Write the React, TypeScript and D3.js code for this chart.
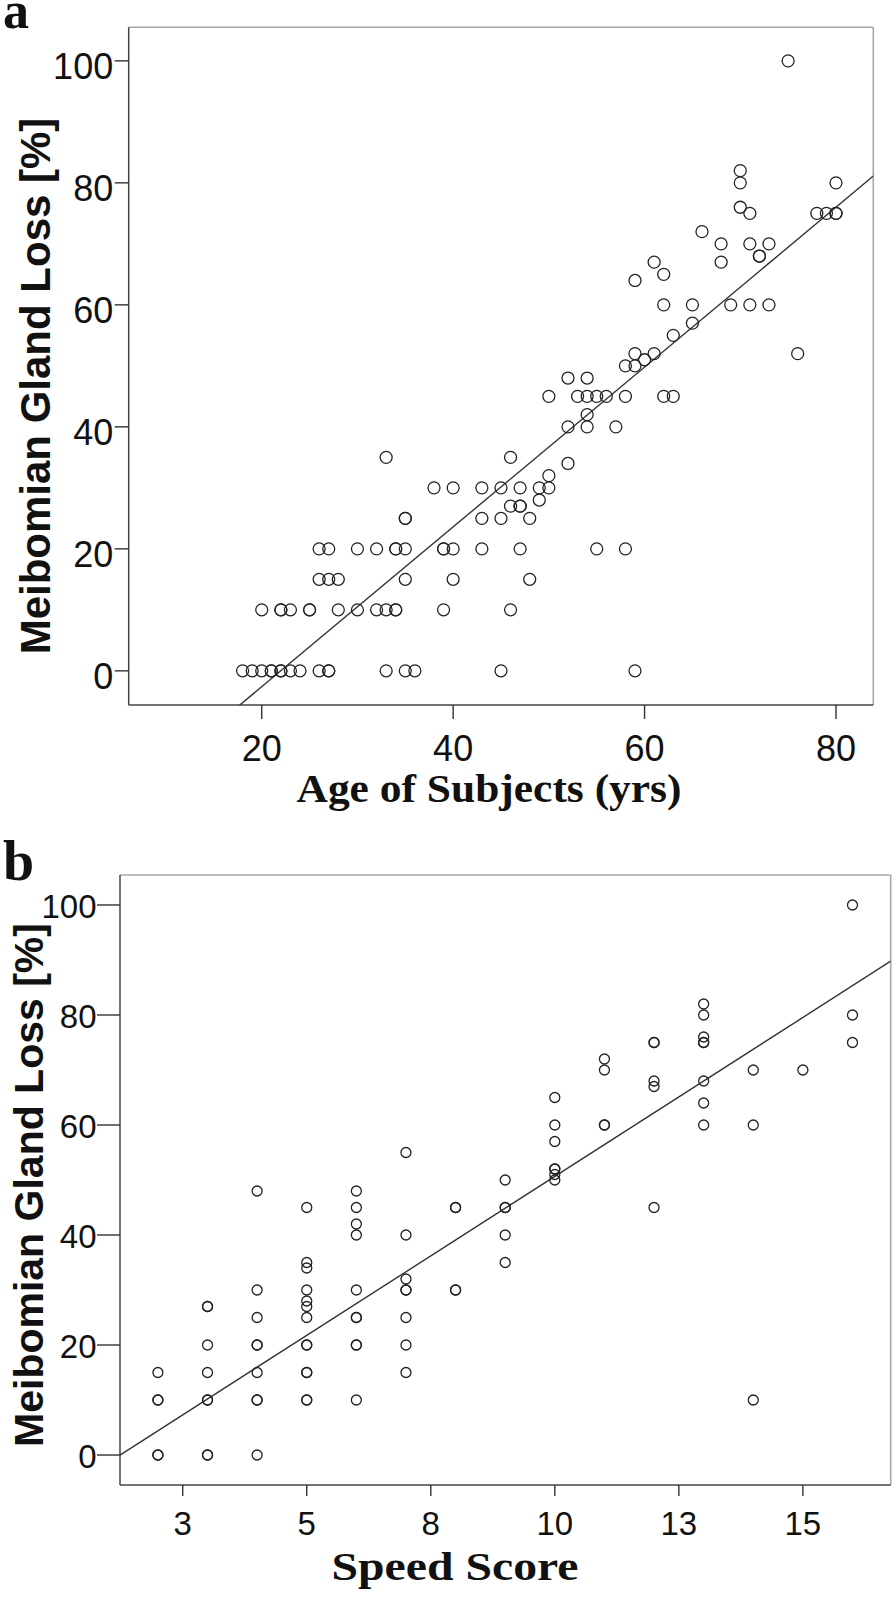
import React from 'react'
import * as d3 from 'd3'

// ---- panel a: age of subjects vs meibomian gland loss ----
const ageA = [
  18, 19, 20, 21, 21, 22, 22, 23, 24, 26, 27, 27, 33, 35, 36, 45, 59,
  20, 22, 22, 23, 25, 25, 28, 30, 32, 33, 34, 34, 39, 46,
  26, 27, 28, 35, 40, 48,
  26, 27, 30, 32, 34, 34, 35, 39, 39, 40, 43, 47, 55, 58,
  35, 35, 43, 45, 48,
  46, 47, 47, 49,
  38, 40, 43, 45, 47, 49, 50,
  50, 52, 33, 46,
  52, 54, 57, 54,
  50, 53, 54, 55, 56, 58, 62, 63,
  52, 54, 58, 59, 60, 59, 61, 76,
  63, 65, 62, 65, 69, 71, 73,
  59, 62, 61, 68, 72, 72, 68, 71, 73, 66,
  71, 78, 79, 80, 80, 70, 70, 80, 70, 75,
]
const lossA = [
  0, 0, 0, 0, 0, 0, 0, 0, 0, 0, 0, 0, 0, 0, 0, 0, 0,
  10, 10, 10, 10, 10, 10, 10, 10, 10, 10, 10, 10, 10, 10,
  15, 15, 15, 15, 15, 15,
  20, 20, 20, 20, 20, 20, 20, 20, 20, 20, 20, 20, 20, 20,
  25, 25, 25, 25, 25,
  27, 27, 27, 28,
  30, 30, 30, 30, 30, 30, 30,
  32, 34, 35, 35,
  40, 40, 40, 42,
  45, 45, 45, 45, 45, 45, 45, 45,
  48, 48, 50, 50, 51, 52, 52, 52,
  55, 57, 60, 60, 60, 60, 60,
  64, 65, 67, 67, 68, 68, 70, 70, 70, 72,
  75, 75, 75, 75, 75, 76, 80, 80, 82, 100,
]
// fit line: [intercept, slope]
const fitA = [-28.8, 1.31]
const xTicksA = [20, 40, 60, 80]
const xTickLabelsA = ['20', '40', '60', '80']

// ---- panel b: speed score vs meibomian gland loss ----
const speedB = [
  2, 2, 2, 2, 2,
  3, 3, 3, 3, 3, 3, 3, 3,
  4, 4, 4, 4, 4, 4, 4, 4, 4,
  5, 5, 5, 5, 5, 5, 5, 5, 5, 5, 5, 5, 5,
  6, 6, 6, 6, 6, 6, 6, 6, 6, 6,
  7, 7, 7, 7, 7, 7, 7, 7,
  8, 8, 8, 8,
  9, 9, 9, 9, 9,
  10, 10, 10, 10, 10, 10, 10,
  11, 11, 11, 11,
  12, 12, 12, 12, 12,
  13, 13, 13, 13, 13, 13, 13, 13,
  14, 14, 14,
  15,
  16, 16, 16,
]
const lossB = [
  15, 10, 10, 0, 0,
  27, 27, 20, 15, 10, 10, 0, 0,
  48, 30, 25, 20, 20, 15, 10, 10, 0,
  45, 35, 34, 30, 28, 27, 25, 20, 20, 15, 15, 10, 10,
  48, 45, 42, 40, 30, 25, 25, 20, 20, 10,
  55, 40, 32, 30, 30, 25, 20, 15,
  45, 45, 30, 30,
  50, 45, 45, 40, 35,
  65, 60, 57, 52, 52, 51, 50,
  72, 70, 60, 60,
  75, 75, 68, 67, 45,
  82, 80, 76, 75, 75, 68, 64, 60,
  70, 60, 10,
  70,
  100, 80, 75,
]
const fitB = [-7.15, 5.78]
const xTicksB = [2.5, 5, 7.5, 10, 12.5, 15]
const xTickLabelsB = ['3', '5', '8', '10', '13', '15']

const yTicks = [0, 20, 40, 60, 80, 100]
const yLabel = 'Meibomian Gland Loss [%]'

const panels = [
  {
    id: 'a', tag: 'a', tagSize: 52, tagY: 28,
    xs: ageA, ys: lossA, fit: fitA,
    xDomain: [6.1, 83.9], yDomain: [-5.6, 105.5],
    box: { left: 128.7, top: 27.3, right: 873.3, bottom: 705 },
    xTicks: xTicksA, xTickLabels: xTickLabelsA,
    xTitle: 'Age of Subjects (yrs)', xTitleX: 489, xTitleY: 802, xTitleW: 385,
    yTitleX: 50, yTitleY: 386, yTitleSize: 42,
    tickFont: 36, yTickLen: 14, xTickLen: 14, yLabGap: 1.5, yLabDy: 18, xLabY: 761,
    r: 6,
  },
  {
    id: 'b', tag: 'b', tagSize: 56, tagY: 880,
    xs: speedB, ys: lossB, fit: fitB,
    xDomain: [1.236, 16.77], yDomain: [-5.45, 105.45],
    box: { left: 120, top: 875, right: 890.7, bottom: 1485 },
    xTicks: xTicksB, xTickLabels: xTickLabelsB,
    xTitle: 'Speed Score', xTitleX: 455, xTitleY: 1580, xTitleW: 247,
    yTitleX: 43, yTitleY: 1185, yTitleSize: 41,
    tickFont: 33, yTickLen: 23, xTickLen: 11, yLabGap: 0.5, yLabDy: 13, xLabY: 1535,
    r: 5,
  },
]

function Panel({ p }: { p: any }) {
  const { box } = p
  const x = d3.scaleLinear().domain(p.xDomain).range([box.left, box.right])
  const y = d3.scaleLinear().domain(p.yDomain).range([box.bottom, box.top])
  const pts = p.xs.map((v: number, i: number) => [v, p.ys[i]])
  const line = d3.line<number>()
    .x(d => x(d))
    .y(d => y(p.fit[0] + p.fit[1] * d))
  const clipId = `clip-${p.id}`

  return (
    <g>
      <text x={3} y={p.tagY} fontFamily="'Liberation Serif', serif" fontWeight="bold"
        fontSize={p.tagSize} fill="#111">{p.tag}</text>

      <defs>
        <clipPath id={clipId}>
          <rect x={box.left} y={box.top} width={box.right - box.left} height={box.bottom - box.top} />
        </clipPath>
      </defs>

      {/* frame: light top/right, darker axes */}
      <line x1={box.left} x2={box.right} y1={box.top} y2={box.top} stroke="#a8a8a8" strokeWidth={1.6} />
      <line x1={box.right} x2={box.right} y1={box.top} y2={box.bottom} stroke="#a8a8a8" strokeWidth={1.6} />
      <line x1={box.left} x2={box.left} y1={box.top} y2={box.bottom} stroke="#444" strokeWidth={1.5} />
      <line x1={box.left} x2={box.right} y1={box.bottom} y2={box.bottom} stroke="#444" strokeWidth={1.5} />

      {yTicks.map(t => (
        <g key={'y' + t}>
          <line x1={box.left - p.yTickLen} x2={box.left} y1={y(t)} y2={y(t)} stroke="#333" strokeWidth={1.4} />
          <text x={box.left - p.yTickLen - p.yLabGap} y={y(t) + p.yLabDy} textAnchor="end"
            fontFamily="'Liberation Sans', Arial, sans-serif" fontSize={p.tickFont} fill="#111">{t}</text>
        </g>
      ))}

      {p.xTicks.map((t: number, i: number) => (
        <g key={'x' + t}>
          <line x1={x(t)} x2={x(t)} y1={box.bottom} y2={box.bottom + p.xTickLen} stroke="#333" strokeWidth={1.4} />
          <text x={x(t)} y={p.xLabY} textAnchor="middle"
            fontFamily="'Liberation Sans', Arial, sans-serif" fontSize={p.tickFont} fill="#111">{p.xTickLabels[i]}</text>
        </g>
      ))}

      <g clipPath={`url(#${clipId})`}>
        <path d={line(p.xDomain) || ''} fill="none" stroke="#333" strokeWidth={1.4} />
        {pts.map((d: number[], i: number) => (
          <circle key={i} cx={x(d[0])} cy={y(d[1])} r={p.r} fill="none" stroke="#222" strokeWidth={1.3} />
        ))}
      </g>

      <text x={p.xTitleX} y={p.xTitleY} textAnchor="middle" fontFamily="'Liberation Serif', serif"
        fontWeight="bold" fontSize={39} fill="#111" textLength={p.xTitleW}
        lengthAdjust="spacingAndGlyphs">{p.xTitle}</text>

      <text transform={`translate(${p.yTitleX},${p.yTitleY}) rotate(-90)`} textAnchor="middle"
        fontFamily="'Liberation Sans', Arial, sans-serif" fontWeight="bold" fontSize={p.yTitleSize}
        fill="#111">{yLabel}</text>
    </g>
  )
}

export default function App() {
  return (
    <svg width={895} height={1599} style={{ position: 'absolute', left: 0, top: 0, background: '#fff' }}>
      <rect width={895} height={1599} fill="#fff" />
      {panels.map(p => <Panel key={p.id} p={p} />)}
    </svg>
  )
}
